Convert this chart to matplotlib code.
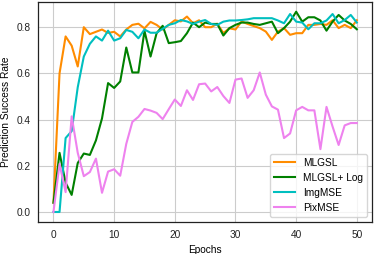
import matplotlib
matplotlib.use("Agg")
import matplotlib.pyplot as plt

epochs = list(range(51))

mlgsl = [0.04, 0.60, 0.76, 0.72, 0.63, 0.80, 0.77, 0.78, 0.79, 0.775,
         0.78, 0.76, 0.79, 0.81, 0.815, 0.795, 0.823, 0.81, 0.79, 0.81,
         0.83, 0.825, 0.846, 0.817, 0.83, 0.80, 0.80, 0.815, 0.775, 0.795,
         0.79, 0.825, 0.814, 0.805, 0.796, 0.781, 0.745, 0.781, 0.796, 0.767,
         0.774, 0.774, 0.81, 0.81, 0.814, 0.81, 0.83, 0.796, 0.81, 0.796,
         0.83]

mlgsl_log = [0.04, 0.256, 0.127, 0.074, 0.212, 0.253, 0.247, 0.31, 0.405, 0.558,
             0.537, 0.565, 0.712, 0.604, 0.604, 0.784, 0.673, 0.774, 0.806, 0.731,
             0.735, 0.74, 0.774, 0.82, 0.80, 0.82, 0.814, 0.814, 0.764, 0.796,
             0.81, 0.82, 0.82, 0.814, 0.81, 0.817, 0.824, 0.774, 0.796, 0.824,
             0.867, 0.824, 0.843, 0.843, 0.829, 0.785, 0.824, 0.853, 0.829, 0.814,
             0.791]

imgmse = [0.0, 0.0, 0.32, 0.35, 0.54, 0.673, 0.728, 0.76, 0.742, 0.785,
          0.742, 0.752, 0.788, 0.78, 0.752, 0.79, 0.776, 0.776, 0.793, 0.81,
          0.817, 0.831, 0.825, 0.814, 0.824, 0.831, 0.814, 0.81, 0.824, 0.829,
          0.829, 0.831, 0.834, 0.839, 0.839, 0.839, 0.839, 0.829, 0.817, 0.857,
          0.824, 0.82, 0.791, 0.817, 0.817, 0.829, 0.857, 0.817, 0.831, 0.853,
          0.82]

pixmse = [0.0, 0.208, 0.086, 0.414, 0.256, 0.155, 0.173, 0.231, 0.083, 0.175,
          0.185, 0.157, 0.295, 0.39, 0.412, 0.446, 0.439, 0.429, 0.402, 0.445,
          0.487, 0.459, 0.527, 0.485, 0.553, 0.556, 0.522, 0.541, 0.502, 0.472,
          0.573, 0.578, 0.494, 0.527, 0.604, 0.508, 0.457, 0.443, 0.32, 0.34,
          0.44, 0.455, 0.44, 0.44, 0.272, 0.455, 0.37, 0.29, 0.375, 0.385,
          0.385]

series = [
    ("MLGSL", mlgsl, "darkorange"),
    ("MLGSL+ Log", mlgsl_log, "green"),
    ("ImgMSE", imgmse, "c"),
    ("PixMSE", pixmse, "violet"),
]

plt.rcParams["font.family"] = ["Liberation Sans", "DejaVu Sans"]
plt.rcParams["font.size"] = 7.3

fig = plt.figure(figsize=(3.74, 2.54), dpi=100)
ax = fig.add_axes([38.3 / 374, 1 - 222 / 254, (372 - 38.3) / 374, (222 - 1.7) / 254])

for name, vals, col in series:
    ax.plot(epochs, vals, color=col, linewidth=1.5, label=name)

ax.set_xticks([0, 10, 20, 30, 40, 50])
ax.set_yticks([0.0, 0.2, 0.4, 0.6, 0.8])
ax.grid(True, color="#cccccc", linewidth=0.8)
ax.set_axisbelow(True)
ax.tick_params(length=0, pad=5.6, labelsize=7.3, colors="#222222")
for sp in ax.spines.values():
    sp.set_color("#222222")
    sp.set_linewidth(0.9)

ax.set_xlabel("Epochs", fontsize=7.3, labelpad=4)
ax.set_ylabel("Prediction Success Rate", fontsize=7.3, labelpad=4)
ax.legend(loc="lower right", fontsize=7.3)

fig.savefig("out.png", dpi=100)
